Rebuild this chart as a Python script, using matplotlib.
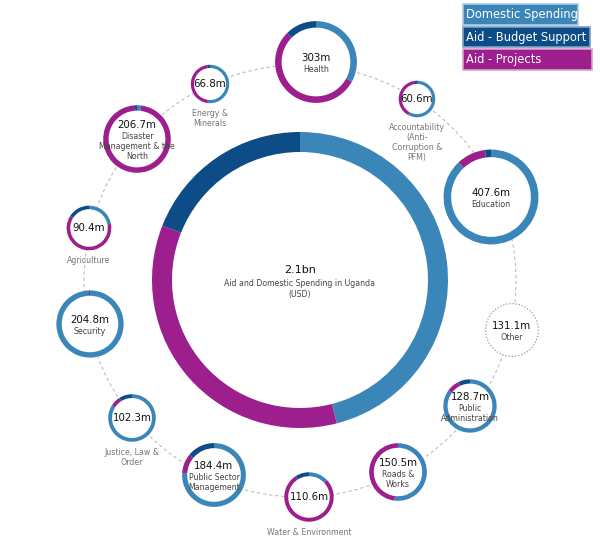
import matplotlib
matplotlib.use("Agg")
import matplotlib.pyplot as plt
from matplotlib.patches import Wedge, Circle, Rectangle
import numpy as np

# ---------------- data ----------------
categories = ["Health", "Accountability\n(Anti-\nCorruption &\nPFM)", "Education", "Other",
              "Public\nAdministration", "Roads &\nWorks", "Water & Environment",
              "Public Sector\nManagement", "Justice, Law &\nOrder", "Security", "Agriculture",
              "Disaster\nManagement & the\nNorth", "Energy &\nMinerals"]
value_labels = ["303m", "60.6m", "407.6m", "131.1m", "128.7m", "150.5m", "110.6m",
                "184.4m", "102.3m", "204.8m", "90.4m", "206.7m", "66.8m"]
totals = [303.0, 60.6, 407.6, 131.1, 128.7, 150.5, 110.6, 184.4, 102.3, 204.8, 90.4, 206.7, 66.8]
# shares (%) of each total: domestic, aid projects, aid budget support
domestic_pct = [33, 58, 88, 0, 85, 52, 13, 76, 84, 99.5, 22, 2, 52]
projects_pct = [54.5, 40, 10, 0, 8, 48, 78, 10, 7, 0.5, 62, 97, 46]
budget_pct = [12.5, 2, 2, 0, 7, 0, 9, 14, 9, 0, 16, 1, 2]

main_total_label = "2.1bn"
main_domestic_pct = 46
main_projects_pct = 35
main_budget_pct = 19

legend_labels = ["Domestic Spending", "Aid - Budget Support", "Aid - Projects"]

# ---------------- layout ----------------
W, H = 600, 546
C_DOM = "#3b86b8"
C_BUD = "#0d4c87"
C_PRO = "#9c1f8d"

centers = [(316, 62), (417, 99), (491, 197), (512, 330), (470, 406), (398, 472),
           (309, 497), (214, 475), (132, 418), (90, 324), (89, 228), (137, 139), (210, 84)]
label_inside = [True, False, True, True, True, True, False, True, False, True, False, True, False]


def Y(y):
    return H - y


fig = plt.figure(figsize=(6.0, 5.46), dpi=100)
ax = fig.add_axes([0, 0, 1, 1])
ax.set_xlim(0, W)
ax.set_ylim(0, H)
ax.axis("off")


def ring(cx, cy, r, w, fracs, colors, z=3):
    start = 0.0
    for f, c in zip(fracs, colors):
        if f <= 0:
            continue
        a0, a1 = start, start + 360.0 * f
        ax.add_patch(Wedge((cx, Y(cy)), r, 90 - a1, 90 - a0, width=w,
                           facecolor=c, edgecolor="none", lw=0, zorder=z))
        start = a1


# dashed connecting circle
ax.add_patch(Circle((300, Y(281)), 216, fill=False, edgecolor="#bdbdbd", lw=0.8,
                    linestyle=(0, (3, 2.5)), zorder=1))

# main donut
mt = main_domestic_pct + main_projects_pct + main_budget_pct
ax.add_patch(Circle((300, Y(280)), 148, facecolor="white", edgecolor="none", zorder=2))
ring(300, 280, 148, 20, [main_domestic_pct / mt, main_projects_pct / mt, main_budget_pct / mt],
     [C_DOM, C_PRO, C_BUD])
ax.text(300, Y(270), main_total_label, ha="center", va="center", fontsize=8,
        color="#111", family="DejaVu Sans")
ax.text(300, Y(289), "Aid and Domestic Spending in Uganda\n(USD)", ha="center", va="center",
        fontsize=5.6, color="#444", family="DejaVu Sans", linespacing=1.25)

# small circles
for i, cat in enumerate(categories):
    cx, cy = centers[i]
    r = 2.35 * np.sqrt(totals[i])
    w = max(3.2, 0.16 * r)
    ax.add_patch(Circle((cx, Y(cy)), r, facecolor="white", edgecolor="none", zorder=2))
    s = domestic_pct[i] + projects_pct[i] + budget_pct[i]
    if s > 0:
        ring(cx, cy, r, w, [domestic_pct[i] / s, projects_pct[i] / s, budget_pct[i] / s],
             [C_DOM, C_PRO, C_BUD])
    else:
        ax.add_patch(Circle((cx, Y(cy)), r - 0.5, fill=False, edgecolor="#9a9a9a", lw=0.9,
                            linestyle=(0, (1, 1.5)), zorder=3))
    if label_inside[i]:
        nlines = cat.count("\n") + 1
        vy = cy - 4 - 5 * (nlines - 1)
        ax.text(cx, Y(vy), value_labels[i], ha="center", va="center", fontsize=7.4,
                color="#111", family="DejaVu Sans", zorder=5)
        ax.text(cx, Y(vy + 7), cat, ha="center", va="top", fontsize=5.7, color="#444",
                family="DejaVu Sans", linespacing=1.15, zorder=5)
    else:
        ax.text(cx, Y(cy), value_labels[i], ha="center", va="center", fontsize=7.4,
                color="#111", family="DejaVu Sans", zorder=5)
        ax.text(cx, Y(cy + r + 6), cat, ha="center", va="top", fontsize=5.7, color="#777",
                family="DejaVu Sans", linespacing=1.15, zorder=5)

# legend
leg_colors = [C_DOM, C_BUD, C_PRO]
leg_edges = ["#a9cbe3", "#7f9fc5", "#d7a3d2"]
leg_widths = [115, 127, 129]
for k, lab in enumerate(legend_labels):
    top = 4 + 22.5 * k
    ax.add_patch(Rectangle((463, Y(top + 20.5)), leg_widths[k], 20.5, facecolor=leg_colors[k],
                           edgecolor=leg_edges[k], lw=1.2, zorder=6))
    ax.text(466, Y(top + 10.5), lab, ha="left", va="center", fontsize=8.3, color="white",
            family="DejaVu Sans", zorder=7)

fig.savefig("out.png", dpi=100)
